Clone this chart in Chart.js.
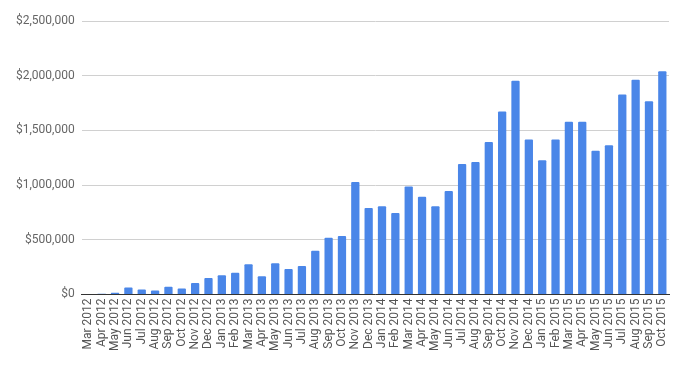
<!DOCTYPE html>
<html>
<head>
<meta charset="utf-8">
<script src="https://cdn.jsdelivr.net/npm/chart.js@4"></script>
<style>
  html, body { margin: 0; padding: 0; background: #fff; }
  #wrap { width: 690px; height: 371px; }
</style>
</head>
<body>
<div id="wrap"><canvas id="myChart"></canvas></div>
<script>
const months = [
  "Mar 2012", "Apr 2012", "May 2012", "Jun 2012", "Jul 2012", "Aug 2012", "Sep 2012", "Oct 2012", "Nov 2012", "Dec 2012",
  "Jan 2013", "Feb 2013", "Mar 2013", "Apr 2013", "May 2013", "Jun 2013", "Jul 2013", "Aug 2013", "Sep 2013", "Oct 2013", "Nov 2013", "Dec 2013",
  "Jan 2014", "Feb 2014", "Mar 2014", "Apr 2014", "May 2014", "Jun 2014", "Jul 2014", "Aug 2014", "Sep 2014", "Oct 2014", "Nov 2014", "Dec 2014",
  "Jan 2015", "Feb 2015", "Mar 2015", "Apr 2015", "May 2015", "Jun 2015", "Jul 2015", "Aug 2015", "Sep 2015", "Oct 2015"
];
const revenue = [
  4000, 6000, 15000, 64000, 46000, 37000, 70000, 55000, 104000, 150000,
  175000, 199000, 276000, 166000, 285000, 233000, 261000, 399000, 518000, 534000, 1028000, 791000,
  807000, 745000, 988000, 893000, 807000, 945000, 1193000, 1212000, 1393000, 1672000, 1954000, 1417000,
  1227000, 1417000, 1580000, 1580000, 1313000, 1365000, 1828000, 1963000, 1767000, 2040000
];
const yTicks = [0, 500000, 1000000, 1500000, 2000000, 2500000];

const ctx = document.getElementById('myChart');
let myChart = new Chart(ctx, {
  type: 'bar',
  data: {
    labels: months,
    datasets: [{
      label: "Revenue",
      data: revenue,
      backgroundColor: "#4a86e8",
      borderRadius: 1,
      borderSkipped: 'bottom',
      categoryPercentage: 1,
      barPercentage: 0.62
    }]
  },
  options: {
    responsive: true,
    maintainAspectRatio: false,
    animation: false,
    layout: { padding: { top: 21, right: 21, bottom: 16, left: 9 } },
    plugins: { legend: { display: false }, tooltip: { enabled: false } },
    scales: {
      x: {
        grid: { display: false, drawTicks: false },
        border: { color: "#333333", width: 1 },
        ticks: {
          autoSkip: false,
          maxRotation: 90,
          minRotation: 90,
          padding: 4,
          color: "#555555",
          font: { family: "Roboto", size: 12 }
        }
      },
      y: {
        min: 0,
        max: 2500000,
        afterBuildTicks: (axis) => { axis.ticks = yTicks.map(v => ({ value: v })); },
        grid: { color: "#d0d0d0", drawTicks: false },
        border: { display: false },
        ticks: {
          padding: 7,
          color: "#666666",
          font: { family: "Roboto", size: 12 },
          callback: (v) => "$" + v.toLocaleString("en-US")
        }
      }
    }
  }
});
</script>
</body>
</html>
